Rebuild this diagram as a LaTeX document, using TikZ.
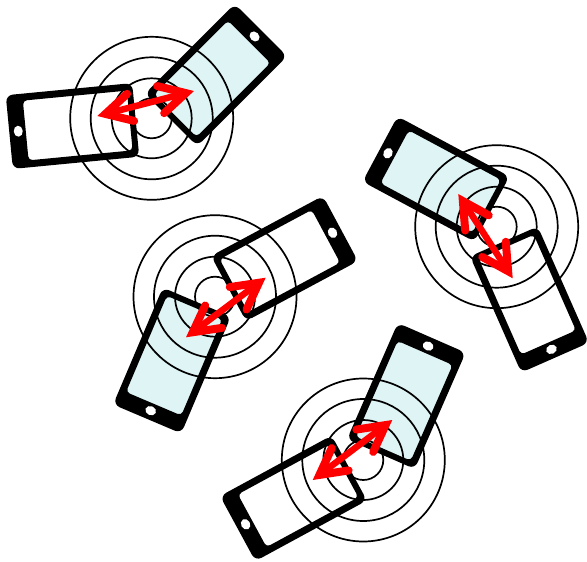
\documentclass[tikz,border=0pt]{standalone}
\usetikzlibrary{arrows.meta}
\definecolor{screenblue}{HTML}{DFF4F5}
\tikzset{
ring/.style={draw=black,line width=1.7pt},
screenfill/.style={fill=screenblue},
barb/.tip={Straight Barb[length=26pt,width=28pt,line width=8pt,line cap=round,line join=miter]},
link/.style={draw=red,line width=6.5pt,{barb}-{barb},preaction={draw,-,shorten >=9pt,shorten <=9pt}},
pics/phonescreen/.style={code={\fill[screenfill,rounded corners=3pt] (-58,-31) rectangle (48,31);}},
pics/phonebody/.style={code={
\fill[black,even odd rule,rounded corners=7pt] (-63.5,-37) rectangle (63.5,37)
  [rounded corners=4pt] (-57.5,-30) rectangle (47,30);
\fill[white] (54.5,0) ellipse [x radius=4.5pt,y radius=5.5pt];
}}
}
\begin{document}
\begin{tikzpicture}[x=1pt,y=-1pt]
\useasboundingbox (0,0) rectangle (587,562);
% centres of the rings
\coordinate (ringsA) at (151.7,118.3);
\coordinate (ringsB) at (496.7,226.7);
\coordinate (ringsC) at (215,296.7);
\coordinate (ringsD) at (363.3,460);
% arrow ends
\coordinate (linkAl) at (97.3,116);
\coordinate (linkAr) at (194,91);
\coordinate (linkBu) at (458.3,194);
\coordinate (linkBd) at (512.7,278.3);
\coordinate (linkCr) at (265.7,277.7);
\coordinate (linkCl) at (186,337.3);
\coordinate (linkDr) at (392.3,420);
\coordinate (linkDl) at (312.7,480);
% blue screens go under the rings
\pic[rotate=45] at (216,75) {phonescreen};
\pic[rotate=151.8] at (436,179) {phonescreen};
\pic[rotate=247] at (172,360.5) {phonescreen};
\pic[rotate=66.4] at (406.3,396) {phonescreen};
\foreach \c in {ringsA,ringsB,ringsC,ringsD}
  \foreach \r in {20,40,61,81.5}
    \draw[ring] (\c) circle (\r pt);
% phone bodies
\pic[rotate=185.5] at (72.5,126) {phonebody};
\pic[rotate=45] at (216,75) {phonebody};
\pic[rotate=151.8] at (436,179) {phonebody};
\pic[rotate=-66.2] at (529.5,299.5) {phonebody};
\pic[rotate=28.2] at (284.5,258.5) {phonebody};
\pic[rotate=247] at (172,360.5) {phonebody};
\pic[rotate=66.4] at (406.3,396) {phonebody};
\pic[rotate=208.5] at (293.5,498.3) {phonebody};
\draw[link] (linkAl) -- (linkAr);
\draw[link] (linkBu) -- (linkBd);
\draw[link] (linkCr) -- (linkCl);
\draw[link] (linkDr) -- (linkDl);
\end{tikzpicture}
\end{document}
